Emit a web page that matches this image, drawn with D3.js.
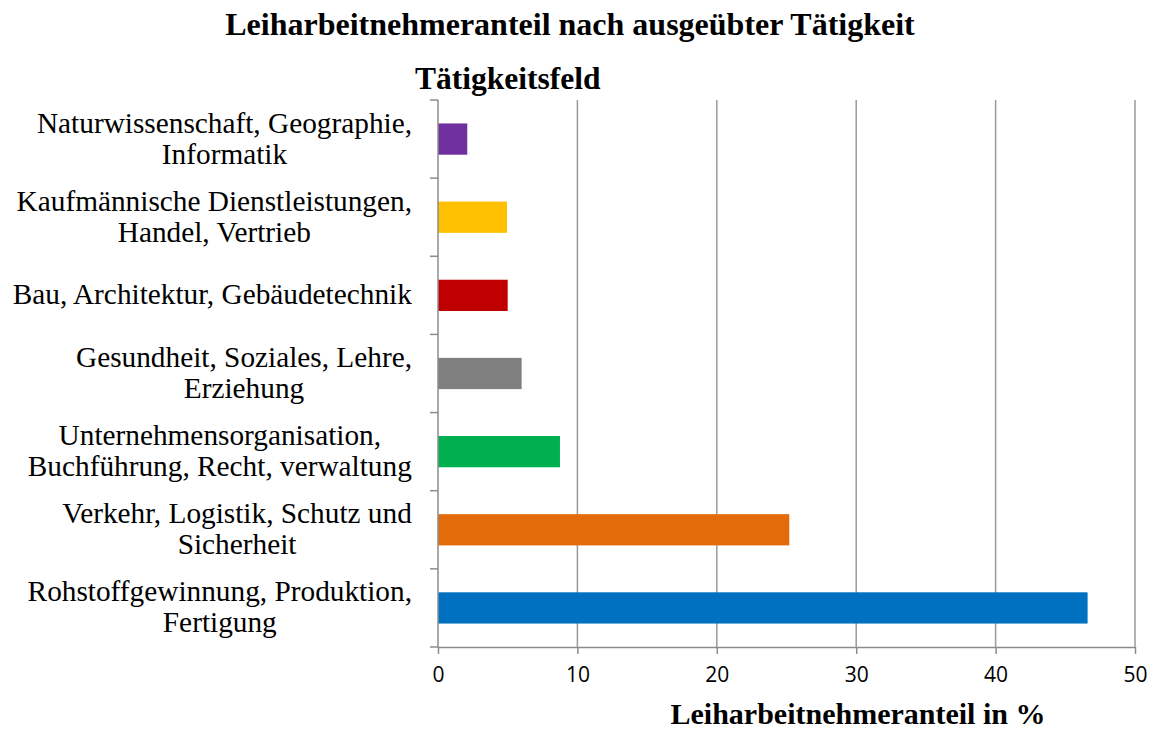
<!DOCTYPE html>
<html>
<head>
<meta charset="utf-8">
<script src="https://cdn.jsdelivr.net/npm/d3@7"></script>
<style>
  body { margin: 0; background: #fff; }
</style>
</head>
<body>
<script>

// Categories, top to bottom
const categories = [
    ["Naturwissenschaft, Geographie,", "Informatik"],
    ["Kaufmännische Dienstleistungen,", "Handel, Vertrieb"],
    ["Bau, Architektur, Gebäudetechnik"],
    ["Gesundheit, Soziales, Lehre,", "Erziehung"],
    ["Unternehmensorganisation,", "Buchführung, Recht, verwaltung"],
    ["Verkehr, Logistik, Schutz und", "Sicherheit"],
    ["Rohstoffgewinnung, Produktion,", "Fertigung"]
];
const values = [2.1, 4.95, 5.0, 6.0, 8.75, 25.2, 46.6];
const colors = ["#7030a0", "#ffc000", "#c00000", "#808080", "#00b050", "#e36c0a", "#0070c0"];
const xTicks = [0, 10, 20, 30, 40, 50];

const width = 1160;
const height = 729;
const marginTop = 100;
const marginRight = 25;
const marginBottom = 82;
const marginLeft = 438;

const serif = "'Liberation Serif', 'Times New Roman', serif";

const data = categories.map((c, i) => ({key: c.join(" "), lines: c, value: values[i], color: colors[i]}));

// Declare the scales.
const x = d3.scaleLinear([0, 50], [marginLeft, width - marginRight]);
const y = d3.scaleBand(data.map(d => d.key), [marginTop, height - marginBottom])
    .paddingInner(0.6).paddingOuter(0.3);

// Create the SVG container.
const svg = d3.create("svg")
    .attr("width", width)
    .attr("height", height)
    .attr("viewBox", [0, 0, width, height]);

document.body.appendChild(svg.node());

// Title
svg.append("text")
    .attr("x", 570)
    .attr("y", 35)
    .attr("text-anchor", "middle")
    .attr("font-family", serif)
    .attr("font-weight", "bold")
    .attr("font-size", "32px")
    .text("Leiharbeitnehmeranteil nach ausgeübter Tätigkeit");

// y axis title
svg.append("text")
    .attr("x", 415)
    .attr("y", 89)
    .attr("font-family", serif)
    .attr("font-weight", "bold")
    .attr("font-size", "31.5px")
    .text("Tätigkeitsfeld");

// Vertical grid lines
svg.append("g")
    .selectAll("line")
    .data(xTicks.slice(1))
    .join("line")
    .attr("x1", d => x(d))
    .attr("x2", d => x(d))
    .attr("y1", marginTop)
    .attr("y2", height - marginBottom)
    .attr("stroke", "#9a9a9a")
    .attr("stroke-width", 1.5);

// Bars
svg.append("g")
    .selectAll("rect")
    .data(data)
    .join("rect")
    .attr("x", x(0))
    .attr("y", d => y(d.key))
    .attr("width", d => x(d.value) - x(0))
    .attr("height", y.bandwidth())
    .attr("fill", d => d.color);

// Add the x-axis.
svg.append("g")
    .attr("transform", `translate(0,${height - marginBottom})`)
    .call(d3.axisBottom(x).tickValues(xTicks).tickSize(7).tickPadding(13).tickSizeOuter(0))
    .call(g => g.select(".domain").attr("stroke", "#8c8c8c").attr("stroke-width", 1.5))
    .call(g => g.selectAll(".tick line").attr("stroke", "#8c8c8c").attr("stroke-width", 1.5))
    .call(g => g.selectAll(".tick text")
        .attr("font-family", "'Open Sans', sans-serif")
        .attr("font-size", "21px")
        .attr("fill", "#000"));

// Add the y-axis with ticks at the band boundaries.
const bounds = d3.range(data.length + 1).map(i => marginTop + i * (height - marginTop - marginBottom) / data.length);
svg.append("line")
    .attr("x1", x(0)).attr("x2", x(0))
    .attr("y1", marginTop).attr("y2", height - marginBottom)
    .attr("stroke", "#8c8c8c").attr("stroke-width", 1.5);
svg.append("g")
    .selectAll("line")
    .data(bounds)
    .join("line")
    .attr("x1", x(0) - 8).attr("x2", x(0))
    .attr("y1", d => d).attr("y2", d => d)
    .attr("stroke", "#8c8c8c").attr("stroke-width", 1.5);

// Category labels: lines centred, block right-aligned against the axis
const labels = svg.append("g")
    .attr("font-family", serif)
    .attr("font-size", "29.3px")
    .attr("text-anchor", "middle");

data.forEach(d => {
    const cy = y(d.key) + y.bandwidth() / 2;
    const n = d.lines.length;
    const lineH = 31;
    const t = labels.append("text");
    d.lines.forEach((line, i) => {
        t.append("tspan")
            .attr("x", 0)
            .attr("y", cy + (i - (n - 1) / 2) * lineH + 9)
            .text(line);
    });
    const w = t.node().getBBox().width;
    t.attr("transform", `translate(${412 - w / 2},0)`);
});

// x axis title
svg.append("text")
    .attr("x", 858)
    .attr("y", 724)
    .attr("text-anchor", "middle")
    .attr("font-family", serif)
    .attr("font-weight", "bold")
    .attr("font-size", "30px")
    .text("Leiharbeitnehmeranteil in %");

</script>
</body>
</html>
